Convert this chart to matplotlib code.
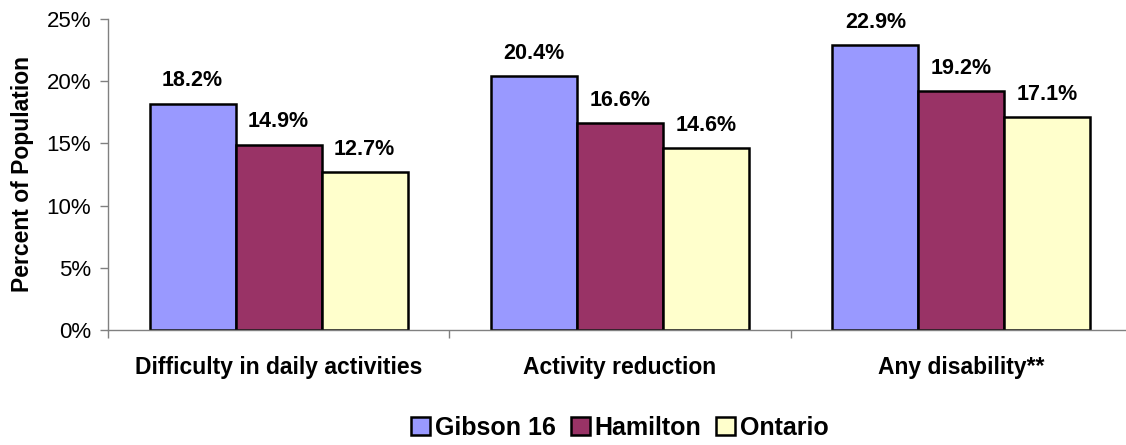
import numpy as np
import matplotlib.pyplot as plt
from matplotlib.ticker import FuncFormatter

plt.rcParams['font.family'] = ['Liberation Sans', 'DejaVu Sans']

categories = ["Difficulty in daily activities", "Activity reduction", "Any disability**"]
series = ["Gibson 16", "Hamilton", "Ontario"]
gibson = [18.2, 20.4, 22.9]
hamilton = [14.9, 16.6, 19.2]
ontario = [12.7, 14.6, 17.1]
colors = ["#9999FF", "#993366", "#FFFFCC"]

fig = plt.figure(figsize=(11.26, 4.45), dpi=100)
ax = fig.add_axes([108 / 1126, 115 / 445, 1024 / 1126, 311 / 445])

x = np.arange(len(categories))
w = 0.252
for i, (name, vals) in enumerate(zip(series, [gibson, hamilton, ontario])):
    pos = x + (i - 1) * w
    bars = ax.bar(pos, vals, w, color=colors[i], edgecolor="black", linewidth=1.8, label=name)
    for b, v in zip(bars, vals):
        ax.annotate(f"{v:.1f}%", (b.get_x() + b.get_width() / 2, v), xytext=(0, 9),
                    textcoords="offset points", ha="center", va="bottom",
                    fontsize=15.5, fontweight="bold")

ax.set_xlim(-0.5, 2.5)
ax.set_ylim(0, 25)
ax.set_yticks(range(0, 26, 5))
ax.yaxis.set_major_formatter(FuncFormatter(lambda v, p: f"{v:.0f}%"))
ax.set_xticks(x)
ax.set_xticklabels(categories, fontsize=16.5, fontweight="bold")
ax.set_xticks([-0.5, 0.5, 1.5, 2.5], minor=True)
ax.tick_params(axis="x", which="major", length=0, pad=19)
ax.tick_params(axis="x", which="minor", length=6, width=1, color="#808080", direction="out")
ax.tick_params(axis="y", labelsize=16, length=6, width=1, color="#808080", pad=6)
ax.set_ylabel("Percent of Population", fontsize=16.5, fontweight="bold", labelpad=9)

for s in ["top", "right"]:
    ax.spines[s].set_visible(False)
for s in ["left", "bottom"]:
    ax.spines[s].set_color("#808080")
    ax.spines[s].set_linewidth(1)

leg = ax.legend(loc="center", bbox_to_anchor=(0.5, (17 - 115) / 311), ncol=3, frameon=False,
                prop={"size": 18, "weight": "bold"}, handlelength=0.75, handleheight=0.75,
                handletextpad=0.2, columnspacing=0.6)

fig.savefig("out.png", dpi=100)
